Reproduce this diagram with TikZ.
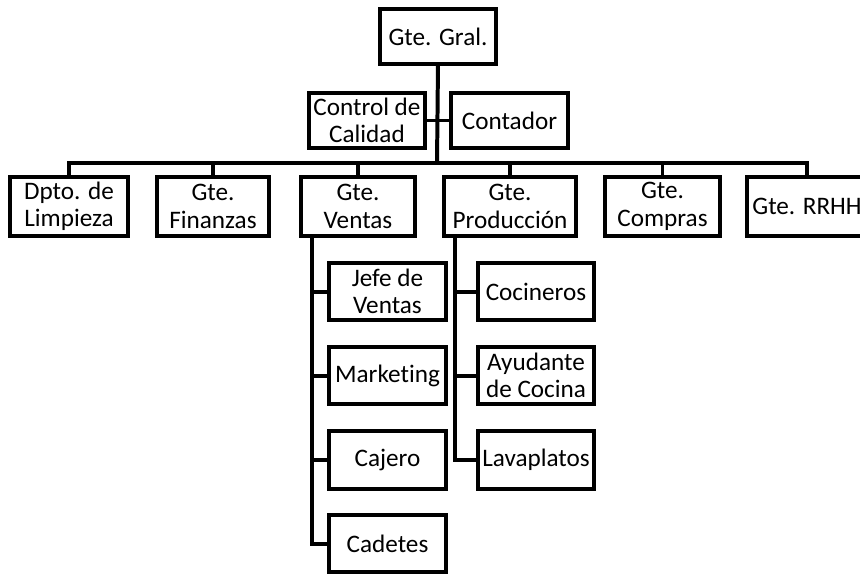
\documentclass[tikz,border=0pt]{standalone}
\usepackage{fontspec}
\setmainfont{Carlito}[Ligatures=NoCommon]
\begin{document}
\begin{tikzpicture}[x=0.03cm,y=-0.03cm,line width=3.4pt,
  every node/.style={draw, line width=3.4pt, align=center, inner sep=1pt, outer sep=0pt,
    minimum width=3.5cm, minimum height=1.73cm, font=\fontsize{21.5pt}{23.5pt}\selectfont},
  tall/.style={minimum height=1.79cm}]
\useasboundingbox (0,0) rectangle (860,574);
% top
\node (gral) at (438,36.5) [minimum height=1.67cm] {Gte. Gral.};
\node (calidad) at (367,120.5) [minimum height=1.67cm] {Control de\\Calidad};
\node (contador) at (509.5,120.5) [minimum height=1.67cm, minimum width=3.53cm] {Contador};
\coordinate (bar) at (437,163);
% second row
\node[tall, minimum width=3.56cm] (limpieza) at (69,206.5) {Dpto. de\\Limpieza};
\node[tall, minimum width=3.35cm] (finanzas) at (213,206.5) {Gte.\\Finanzas};
\node[tall, minimum width=3.43cm] (ventas) at (358,206.5) {Gte.\\Ventas};
\node[tall, minimum width=3.97cm] (produccion) at (510,206.5) {Gte.\\Producción};
\node[tall, minimum width=3.47cm] (compras) at (662.5,206.5) {Gte.\\Compras};
\node[tall, minimum width=3.62cm] (rrhh) at (807,206.5) {Gte. RRHH};
% ventas
\node (jefe) at (387.5,291.5) {Jefe de\\Ventas};
\node (marketing) at (387.5,375.5) {Marketing};
\node (cajero) at (387.5,460) {Cajero};
\node (cadetes) at (387.5,543.5) {Cadetes};
% produccion
\node (cocineros) at (536,291.5) {Cocineros};
\node (ayudante) at (536,375.5) {Ayudante\\de Cocina};
\node (lavaplatos) at (536,460) {Lavaplatos};
\coordinate (vline) at (312,238);
\coordinate (pline) at (455,238);
\draw (gral.south) -- (bar);
\draw (calidad.east) -- (calidad.east -| gral.south);
\draw (contador.west) -- (contador.west -| gral.south);
\draw (limpieza.north) |- (bar) -| (rrhh.north);
\draw (finanzas.north) -- (finanzas.north |- bar);
\draw (ventas.north) -- (ventas.north |- bar);
\draw (produccion.north) -- (produccion.north |- bar);
\draw (compras.north) -- (compras.north |- bar);
\draw (vline) |- (cadetes.west);
\draw (jefe.west) -- (jefe.west -| vline);
\draw (marketing.west) -- (marketing.west -| vline);
\draw (cajero.west) -- (cajero.west -| vline);
\draw (pline) |- (lavaplatos.west);
\draw (cocineros.west) -- (cocineros.west -| pline);
\draw (ayudante.west) -- (ayudante.west -| pline);
\end{tikzpicture}
\end{document}
